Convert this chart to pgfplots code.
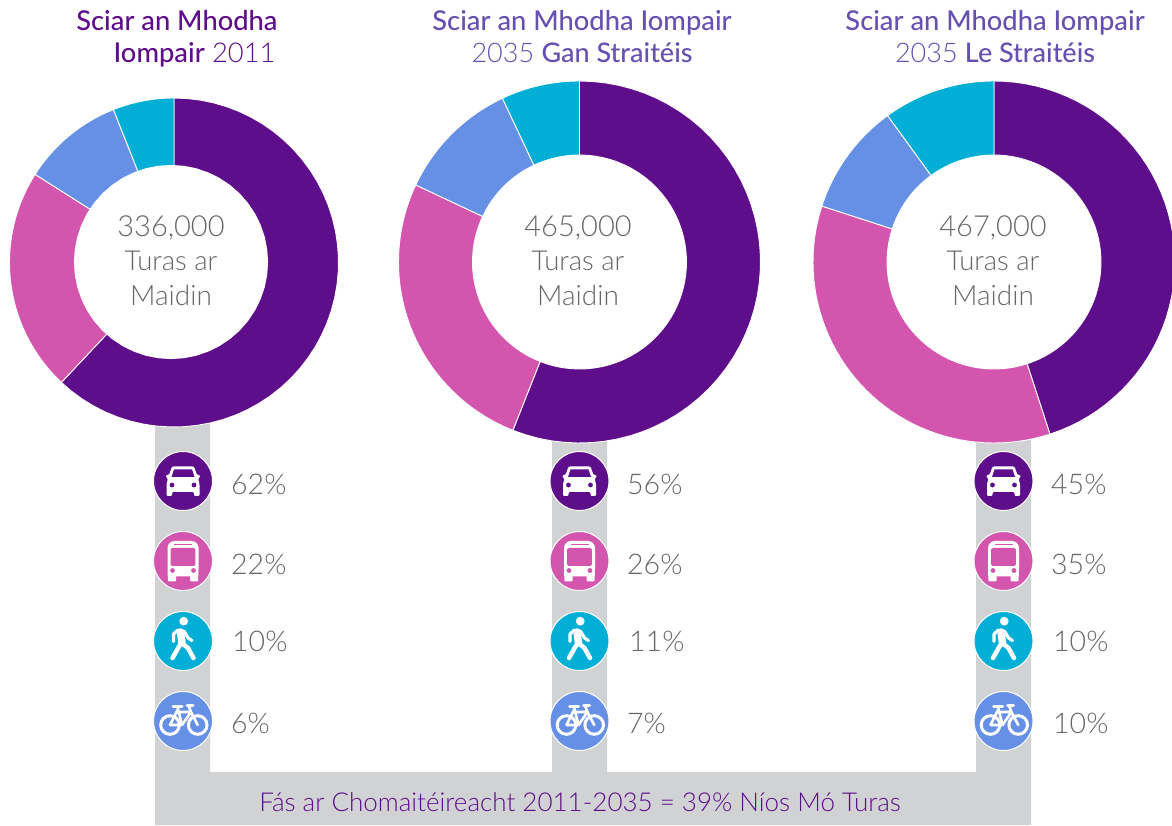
\documentclass[border=0pt]{standalone}
\usepackage{pgfplots}
\pgfplotsset{compat=1.18}
\usepackage{fontspec}
\setmainfont{Lato}[UprightFont=* Light,BoldFont=* Medium]
\definecolor{car}{HTML}{5E0D8B}
\definecolor{bus}{HTML}{D455AE}
\definecolor{cyc}{HTML}{6690E6}
\definecolor{wlk}{HTML}{00AED6}
\definecolor{strip}{HTML}{D1D2D4}
\definecolor{txt}{HTML}{656669}
\definecolor{ttl}{HTML}{6650B0}
% cx cy R r from to colour
\newcommand\dwedge[7]{%
  \gdef\lst{}%
  \pgfmathsetmacro\aa{#5*3.6}\pgfmathsetmacro\bb{#6*3.6}%
  \foreach \i in {0,...,48}{%
    \pgfmathsetmacro\t{\aa+(\bb-\aa)/48*\i}%
    \pgfmathsetmacro\px{#1+#3*sin(\t)}\pgfmathsetmacro\py{#2-#3*cos(\t)}%
    \xdef\lst{\lst (\px,\py)}}%
  \foreach \i in {48,...,0}{%
    \pgfmathsetmacro\t{\aa+(\bb-\aa)/48*\i}%
    \pgfmathsetmacro\px{#1+#4*sin(\t)}\pgfmathsetmacro\py{#2-#4*cos(\t)}%
    \xdef\lst{\lst (\px,\py)}}%
  \edef\tmp{\noexpand\addplot[fill=#7,draw=white,line width=0.9pt,forget plot] coordinates {\lst} -- cycle;}\tmp
}
% cx cy R r car bus cyc wlk
\newcommand\donut[8]{%
  \pgfmathsetmacro\sa{#5}\pgfmathsetmacro\sb{#5+#6}\pgfmathsetmacro\sc{#5+#6+#7}\pgfmathsetmacro\sd{#5+#6+#7+#8}%
  \dwedge{#1}{#2}{#3}{#4}{0}{\sa}{car}%
  \dwedge{#1}{#2}{#3}{#4}{\sa}{\sb}{bus}%
  \dwedge{#1}{#2}{#3}{#4}{\sb}{\sc}{cyc}%
  \dwedge{#1}{#2}{#3}{#4}{\sc}{\sd}{wlk}%
}
\tikzset{
 x=1pt,y=1pt,
 car/.pic={
  \fill[white,rounded corners=1.2pt] (-11,14.5)--(11,14.5)--(14,6)--(17,6)--(17,3.5)--(15,2.5)--(16.5,-3)--(16.5,-15)--(11,-15)--(11,-11)--(-11,-11)--(-11,-15)--(-16.5,-15)--(-16.5,-3)--(-15,2.5)--(-17,3.5)--(-17,6)--(-14,6)--cycle;
  \fill[car] (-9,11.5)--(9,11.5)--(11.5,4)--(-11.5,4)--cycle;
  \fill[car] (-11,-4) circle (2.4) (11,-4) circle (2.4);
 },
 bus/.pic={
  \fill[white,rounded corners=7pt] (-15.5,20)--(15.5,20)--(15.5,-15.5)--(-15.5,-15.5)--cycle;
  \fill[white,rounded corners=1pt] (-15.5,-9)--(-7,-12)--(-7,-20.5)--(-15,-20.5)--cycle (15.5,-9)--(7,-12)--(7,-20.5)--(15,-20.5)--cycle;
  \fill[bus,rounded corners=1.5pt] (-12.3,13)--(12.3,13)--(12.3,-5)--(-12.3,-5)--cycle;
  \fill[bus] (-9,17.2) rectangle (9,15.5);
  \fill[bus] (-10.5,-9.5) circle (2.4) (10.5,-9.5) circle (2.4);
 },
 wlk/.pic={
  \fill[white] (0.7,19.8) circle (4.4);
  \draw[white,line width=7.5pt,line cap=round,line join=round] (-2.5,9)--(-1,-2);
  \draw[white,line width=4.5pt,line cap=round,line join=round] (-2,-2)--(-10.5,-17);
  \draw[white,line width=4.5pt,line cap=round,line join=round] (0,-3)--(5,-7)--(10.5,-17);
  \draw[white,line width=3.2pt,line cap=round,line join=round] (-5,11)--(-9.5,7)--(-9.5,-0.5);
  \draw[white,line width=3.2pt,line cap=round,line join=round] (1,10)--(5,3)--(9,0.5);
 },
 cyc/.pic={
  \draw[white,line width=3pt] (-13,-4) circle (9.3) (14.7,-4) circle (9.3);
  \draw[white,line width=2.6pt,line cap=round,line join=round] (-13,-4)--(-5,12)--(-1,-4)--(-13,-4) (-4,9)--(8,9)--(14.7,-4) (8,9)--(-1,-4) (6,14)--(8,9);
  \draw[white,line width=3pt,line cap=round] (-10,15)--(-1,15) (4,16)--(10,16);
 }
}
\begin{document}
\begin{tikzpicture}
\path[use as bounding box] (0,0) rectangle (1172pt,825pt);
\begin{axis}[at={(0,0)},anchor=south west,width=1172pt,height=825pt,scale only axis,
  xmin=0,xmax=1172,ymin=0,ymax=825,y dir=reverse,hide axis,clip=false,no markers]
% grey connectors
\addplot[fill=strip,draw=none,forget plot] coordinates {(155,400)(210,400)(210,772)(552,772)(552,400)(607,400)(607,772)(976,772)(976,400)(1031,400)(1031,825)(155,825)} -- cycle;
\donut{174}{262.5}{164.5}{85}{62}{22}{10}{6}
\dwedge{171}{262}{96.6}{0}{0}{100}{white}
\donut{579.5}{262}{181}{107}{56}{26}{11}{7}
\donut{994}{262}{181}{107}{45}{35}{10}{10}
\addplot[only marks,mark=*,mark size=29.5pt,mark options={fill=car,draw=white,line width=1pt},forget plot] coordinates {(183,481)(579.5,481)(1003.5,481)};
\addplot[only marks,mark=*,mark size=29.5pt,mark options={fill=bus,draw=white,line width=1pt},forget plot] coordinates {(183,561)(579.5,561)(1003.5,561)};
\addplot[only marks,mark=*,mark size=29.5pt,mark options={fill=wlk,draw=white,line width=1pt},forget plot] coordinates {(183,641)(579.5,641)(1003.5,641)};
\addplot[only marks,mark=*,mark size=29.5pt,mark options={fill=cyc,draw=white,line width=1pt},forget plot] coordinates {(183,721)(579.5,721)(1003.5,721)};
% titles
\node[font=\fontsize{27.3}{27}\selectfont,text=car,anchor=base east] at (axis cs:281,30) {\textbf{Sciar an Mhodha}};
\node[font=\fontsize{27.3}{27}\selectfont,text=car,anchor=base east] at (axis cs:279,62) {\textbf{Iompair} 2011};
\node[font=\fontsize{27.3}{27}\selectfont,text=ttl,anchor=base] at (axis cs:582,30) {\textbf{Sciar an Mhodha Iompair}};
\node[font=\fontsize{27}{27}\selectfont,text=ttl,anchor=base] at (axis cs:582,62) {2035 \textbf{Gan Straitéis}};
\node[font=\fontsize{27.3}{27}\selectfont,text=ttl,anchor=base] at (axis cs:995,30) {\textbf{Sciar an Mhodha Iompair}};
\node[font=\fontsize{27}{27}\selectfont,text=ttl,anchor=base] at (axis cs:995,62) {2035 \textbf{Le Straitéis}};
% centre labels
\foreach \x/\n in {171/336,578/465,993/467}{
  \edef\tmp{\noexpand\node[font=\noexpand\fontsize{29}{29}\noexpand\selectfont,text=txt,anchor=base] at (axis cs:\x,236) {\n,000};
  \noexpand\node[font=\noexpand\fontsize{27.5}{29}\noexpand\selectfont,text=txt,anchor=base] at (axis cs:\x,270) {Turas ar};
  \noexpand\node[font=\noexpand\fontsize{28}{29}\noexpand\selectfont,text=txt,anchor=base] at (axis cs:\x,305) {Maidin};}\tmp
}
% percentages
\foreach \x/\y/\p in {231/494/62,231/574/22,232/651/10,231/733/6,627/494/56,627/574/26,629/651/11,627/733/7,1051/494/45,1051/574/35,1053/651/10,1053/733/10}{
  \edef\tmp{\noexpand\node[font=\noexpand\fontsize{28.5}{29}\noexpand\selectfont,text=txt,anchor=base west,inner sep=0pt] at (axis cs:\x,\y) {\p\noexpand\%};}\tmp
}
\node[font=\fontsize{26}{26}\selectfont,text=car,anchor=base] at (axis cs:580,811) {Fás ar Chomaitéireacht 2011-2035 = 39\% Níos Mó Turas};
\end{axis}
% icons over the discs
\foreach \x in {183,579.5,1003.5}{
  \path (\x pt,344pt) pic {car} (\x pt,264pt) pic {bus} (\x pt,184pt) pic {wlk} (\x pt,104pt) pic {cyc};
}
\end{tikzpicture}
\end{document}
